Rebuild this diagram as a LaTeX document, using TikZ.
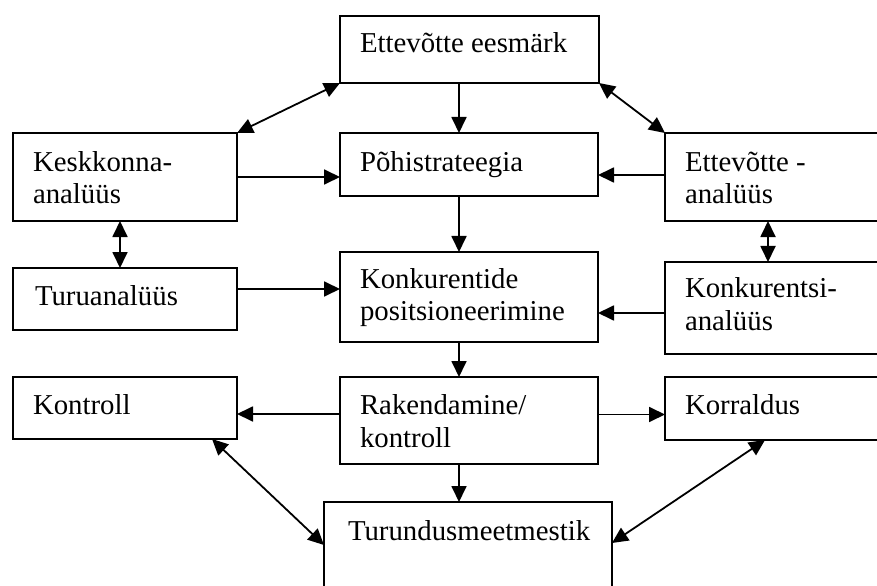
\documentclass[tikz,border=0pt]{standalone}
\usepackage{fontspec}
\setmainfont{Liberation Serif}
\usetikzlibrary{arrows.meta,fit}
\begin{document}
\begin{tikzpicture}[x=1bp,y=-1bp,
  box/.style={draw, line width=1.2bp, rectangle, inner sep=0pt, outer sep=0pt},
  txt/.style={anchor=base west, inner sep=0pt, outer sep=0pt, font=\fontsize{28.8bp}{33bp}\selectfont},
  conn/.style={line width=1.8bp, -{Triangle[length=16bp,width=15bp]}},
  dconn/.style={line width=1.8bp, {Triangle[length=16bp,width=15bp]}-{Triangle[length=16bp,width=15bp]}}]
\clip (0,0) rectangle (877,586);
% boxes
\node[box, fit={(340,16)(599,83)}] (eesm) {};
\node[box, fit={(13,133)(237,221)}] (kesk) {};
\node[box, fit={(340,133)(598,196)}] (pohi) {};
\node[box, fit={(665,133)(900,221)}] (ette) {};
\node[box, fit={(13,268)(237,330)}] (turu) {};
\node[box, fit={(340,252)(598,342)}] (konk) {};
\node[box, fit={(665,262)(900,354)}] (konks) {};
\node[box, fit={(13,377)(237,439)}] (kontr) {};
\node[box, fit={(340,377)(598,464)}] (rak) {};
\node[box, fit={(665,377)(900,440)}] (korr) {};
\node[box, fit={(324,502)(612,620)}] (turund) {};
% texts
\node[txt] (t1) at (360,53) {Ettevõtte eesmärk};
\node[txt] (t2a) at (33,172) {Keskkonna-};
\node[txt] (t2b) at (33,204) {analüüs};
\node[txt] (t3) at (360,172) {Põhistrateegia};
\node[txt] (t4a) at (685,172) {Ettevõtte -};
\node[txt] (t4b) at (685,204) {analüüs};
\node[txt] (t5) at (35,305) {Turuanalüüs};
\node[txt] (t6a) at (360,288) {Konkurentide};
\node[txt] (t6b) at (360,320) {positsioneerimine};
\node[txt] (t7a) at (685,297) {Konkurentsi-};
\node[txt] (t7b) at (685,330) {analüüs};
\node[txt] (t8) at (33,414) {Kontroll};
\node[txt] (t9a) at (360,414) {Rakendamine/};
\node[txt] (t9b) at (360,447) {kontroll};
\node[txt] (t10) at (685,414) {Korraldus};
\node[txt] (t11) at (348,540) {Turundusmeetmestik};
% axes and anchor points
\coordinate (midx) at (459,0);
\coordinate (leftx) at (120,0);
\coordinate (rightx) at (768,0);
\coordinate (etteW) at ([yshift=2bp]ette.west);
\coordinate (turuE) at ([yshift=10bp]turu.east);
\coordinate (konksW) at ([yshift=-5bp]konks.west);
\coordinate (kontrE) at ([yshift=-6bp]kontr.east);
\coordinate (korrW) at ([yshift=-6bp]korr.west);
\coordinate (kontrS) at ([xshift=-25bp]kontr.south east);
\coordinate (turundW) at ([yshift=-43bp]turund.north west);
\coordinate (korrS) at ([xshift=100bp]korr.south west);
\coordinate (turundE) at ([yshift=-41bp]turund.north east);
% connectors
\draw[conn] (eesm.south -| midx) -- (pohi.north -| midx);
\draw[conn] (pohi.south -| midx) -- (konk.north -| midx);
\draw[conn] (konk.south -| midx) -- (rak.north -| midx);
\draw[conn] (rak.south -| midx) -- (turund.north -| midx);
\draw[dconn] (kesk.north east) -- (eesm.south west);
\draw[dconn] (eesm.south east) -- (ette.north west);
\draw[conn] (kesk.east) -- (pohi.west |- kesk.east);
\draw[conn] (etteW) -- (pohi.east |- etteW);
\draw[dconn] (kesk.south -| leftx) -- (turu.north -| leftx);
\draw[dconn] (ette.south -| rightx) -- (konks.north -| rightx);
\draw[conn] (turuE) -- (konk.west |- turuE);
\draw[conn] (konksW) -- (konk.east |- konksW);
\draw[conn] (rak.west |- kontrE) -- (kontrE);
\draw[conn] (rak.east |- korrW) -- (korrW);
\draw[dconn] (kontrS) -- (turundW);
\draw[dconn] (korrS) -- (turundE);
\end{tikzpicture}
\end{document}
